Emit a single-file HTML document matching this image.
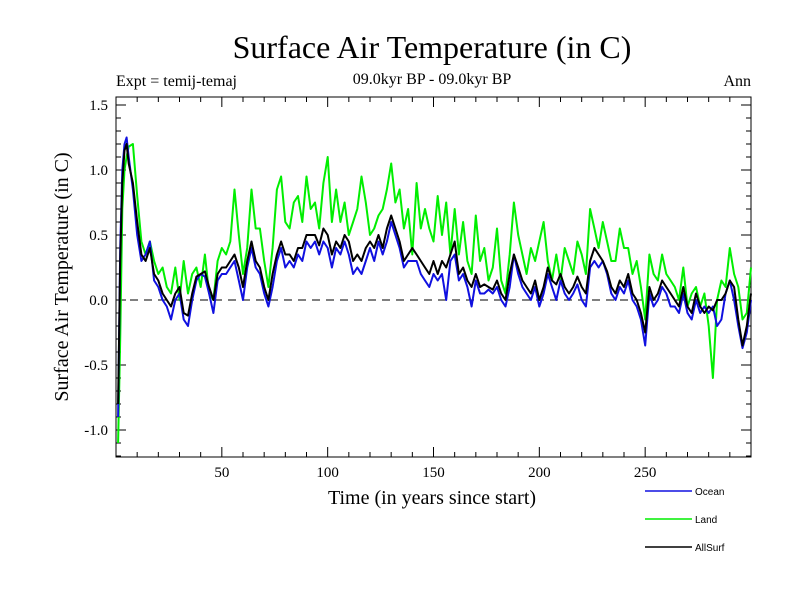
<!DOCTYPE html>
<html><head><meta charset="utf-8"><style>
body{margin:0;background:#fff;}
svg{display:block;font-family:"Liberation Serif",serif;}
</style></head><body>
<svg id="chart" width="800" height="600" xmlns="http://www.w3.org/2000/svg">
<rect width="800" height="600" fill="#fff"/>
<text x="432" y="58" font-size="32" text-anchor="middle">Surface Air Temperature (in C)</text>
<text x="432" y="84" font-size="16" text-anchor="middle">09.0kyr BP - 09.0kyr BP</text>
<text x="116" y="86" font-size="16">Expt = temij-temaj</text>
<text x="751" y="86" font-size="16" text-anchor="end">Ann</text>
<text x="432" y="504" font-size="20" text-anchor="middle">Time (in years since start)</text>
<text transform="translate(68,277) rotate(-90)" font-size="20" text-anchor="middle">Surface Air Temperature (in C)</text>
<g id="axes"></g>
<g id="series"></g>
<g id="legend"></g>
</svg>
<script>
const years=[1,2,3,4,5,6,8,10,12,14,16,18,20,22,24,26,28,30,32,34,36,38,40,42,44,46,48,50,52,54,56,58,60,62,64,66,68,70,72,74,76,78,80,82,84,86,88,90,92,94,96,98,100,102,104,106,108,110,112,114,116,118,120,122,124,126,128,130,132,134,136,138,140,142,144,146,148,150,152,154,156,158,160,162,164,166,168,170,172,174,176,178,180,182,184,186,188,190,192,194,196,198,200,202,204,206,208,210,212,214,216,218,220,222,224,226,228,230,232,234,236,238,240,242,244,246,248,250,252,254,256,258,260,262,264,266,268,270,272,274,276,278,280,282,284,286,288,290,292,294,296,298,300];
const land=[-1.1,-0.3,0.7,1.0,1.1,1.18,1.2,0.8,0.45,0.35,0.45,0.3,0.2,0.25,0.1,0.05,0.25,0.0,0.3,0.05,0.2,0.25,0.1,0.35,0.05,0.0,0.3,0.4,0.35,0.45,0.85,0.5,0.2,0.4,0.85,0.55,0.55,0.3,0.1,0.4,0.85,0.95,0.6,0.55,0.75,0.8,0.6,0.95,0.7,0.75,0.55,0.9,1.1,0.6,0.85,0.6,0.75,0.5,0.6,0.7,0.95,0.75,0.5,0.55,0.65,0.7,0.85,1.05,0.75,0.85,0.55,0.7,0.35,0.9,0.55,0.7,0.55,0.45,0.8,0.5,0.75,0.35,0.7,0.35,0.6,0.3,0.2,0.65,0.3,0.4,0.15,0.25,0.55,0.15,0.05,0.35,0.75,0.5,0.35,0.2,0.4,0.3,0.45,0.6,0.3,0.15,0.35,0.15,0.4,0.3,0.2,0.45,0.35,0.2,0.7,0.55,0.4,0.6,0.45,0.3,0.3,0.55,0.4,0.4,0.2,0.3,0.1,-0.15,0.35,0.2,0.15,0.35,0.2,0.15,0.1,0.0,0.25,-0.05,0.05,0.1,-0.05,0.05,-0.2,-0.6,0.0,0.15,0.1,0.4,0.2,0.1,-0.15,-0.1,0.25];
const ocean=[-0.9,0.4,1.0,1.2,1.25,1.1,0.85,0.5,0.3,0.35,0.45,0.15,0.1,0.0,-0.05,-0.15,0.0,0.05,-0.15,-0.2,0.0,0.15,0.2,0.18,0.05,-0.1,0.15,0.2,0.2,0.25,0.3,0.15,0.0,0.25,0.4,0.25,0.2,0.05,-0.05,0.1,0.3,0.4,0.25,0.3,0.25,0.35,0.3,0.45,0.4,0.45,0.35,0.45,0.4,0.25,0.4,0.35,0.45,0.35,0.2,0.25,0.2,0.3,0.4,0.3,0.45,0.35,0.45,0.6,0.5,0.4,0.25,0.3,0.3,0.3,0.2,0.15,0.1,0.2,0.15,0.2,0.0,0.3,0.35,0.15,0.2,0.1,-0.05,0.15,0.05,0.05,0.08,0.05,0.1,0.0,-0.05,0.1,0.35,0.2,0.1,0.05,0.0,0.1,-0.05,0.05,0.2,0.1,0.0,0.15,0.05,0.0,0.05,0.12,0.0,-0.05,0.25,0.3,0.25,0.3,0.2,0.05,0.0,0.1,0.05,0.15,0.0,-0.05,-0.15,-0.35,0.05,-0.05,0.0,0.1,0.05,-0.05,-0.05,-0.1,0.05,-0.1,-0.15,0.0,-0.1,-0.05,-0.1,-0.05,-0.2,-0.15,0.05,0.15,0.0,-0.2,-0.37,-0.25,0.0];
const allsurf=[-0.8,0.3,0.9,1.15,1.2,1.05,0.9,0.6,0.35,0.3,0.4,0.2,0.15,0.05,0.0,-0.05,0.05,0.1,-0.1,-0.12,0.05,0.18,0.2,0.22,0.1,0.0,0.2,0.25,0.25,0.3,0.35,0.25,0.1,0.3,0.45,0.3,0.25,0.1,0.0,0.2,0.35,0.45,0.35,0.35,0.3,0.4,0.4,0.5,0.5,0.5,0.42,0.55,0.5,0.35,0.45,0.4,0.5,0.45,0.3,0.35,0.3,0.4,0.45,0.4,0.5,0.4,0.55,0.65,0.55,0.45,0.3,0.35,0.4,0.35,0.3,0.25,0.2,0.3,0.2,0.3,0.25,0.35,0.45,0.2,0.25,0.15,0.1,0.2,0.1,0.12,0.1,0.08,0.15,0.05,0.0,0.2,0.35,0.25,0.15,0.1,0.05,0.15,0.0,0.1,0.25,0.15,0.12,0.2,0.1,0.05,0.1,0.18,0.1,0.05,0.3,0.4,0.35,0.3,0.22,0.1,0.05,0.15,0.1,0.2,0.05,0.0,-0.1,-0.25,0.1,0.0,0.05,0.15,0.1,0.05,0.0,-0.05,0.1,-0.05,-0.1,0.05,-0.05,-0.1,-0.05,-0.08,0.0,0.0,0.05,0.15,0.1,-0.15,-0.35,-0.2,0.05];
const yTicks=[-1.0,-0.5,0.0,0.5,1.0,1.5];
const yTickLabels=["-1.0","-0.5","0.0","0.5","1.0","1.5"];
const xTicks=[50,100,150,200,250];
const xTickLabels=["50","100","150","200","250"];
const legendNames=["Ocean","Land","AllSurf"];
const legendColors=["#1010e0","#00ee00","#000000"];

const L=116,R=751,T=97,B=457;
const X=v=>L+(v-0)*(R-L)/300;
const Y=v=>300-v*130;
const NS="http://www.w3.org/2000/svg";
function mk(tag,attrs,parent){const e=document.createElementNS(NS,tag);for(const k in attrs)e.setAttribute(k,attrs[k]);parent.appendChild(e);return e;}
const axes=document.getElementById('axes');
let f=mk('rect',{x:L,y:T,width:R-L,height:B-T,fill:'none',stroke:'#000','stroke-width':1},axes);


let z=mk('line',{x1:L,x2:R,y1:Y(0),y2:Y(0),stroke:'#000','stroke-dasharray':'8,6','stroke-width':1},axes);


for(let v=-1.2;v<=1.55;v+=0.1){const yy=Y(Math.round(v*10)/10);if(yy<T||yy>B)continue;const major=Math.abs(Math.round(v*10)%5)===0;const len=major?10:5;
 mk('line',{x1:L,x2:L+len,y1:yy,y2:yy,stroke:'#000'},axes);mk('line',{x1:R,x2:R-len,y1:yy,y2:yy,stroke:'#000'},axes);}
yTicks.forEach((v,i)=>{const t=mk('text',{x:L-8,y:Y(v)+5,'font-size':15,'text-anchor':'end'},axes);t.textContent=yTickLabels[i];
 
 });
for(let v=10;v<300;v+=10){const xx=X(v);const len=(v%50===0)?10:5;
 mk('line',{x1:xx,x2:xx,y1:B,y2:B-len,stroke:'#000'},axes);mk('line',{x1:xx,x2:xx,y1:T,y2:T+len,stroke:'#000'},axes);}
xTicks.forEach((v,i)=>{const t=mk('text',{x:X(v),y:B+20,'font-size':15,'text-anchor':'middle'},axes);t.textContent=xTickLabels[i];
 
 });
const ser=document.getElementById('series');
function line(vals,color,name,w){const d=vals.map((v,i)=>(i?'L':'M')+X(years[i]).toFixed(1)+','+Y(v).toFixed(1)).join('');
 const p=mk('path',{d:d,fill:'none',stroke:color,'stroke-width':w,'stroke-linejoin':'round'},ser);
 
 }
line(land,legendColors[1],'land-line',2);
line(ocean,legendColors[0],'ocean-line',2);
line(allsurf,legendColors[2],'allsurf-line',2);
const lg=document.getElementById('legend');
legendNames.forEach((n,i)=>{const yy=491+i*28;
 const g=mk('g',{},lg);
 
 
 mk('line',{x1:645,x2:692,y1:yy,y2:yy,stroke:legendColors[i],'stroke-width':1.5},g);
 const t=mk('text',{x:695,y:yy+4,'font-size':10,'font-family':'Liberation Sans, sans-serif'},g);t.textContent=n;});
</script>
</body></html>
